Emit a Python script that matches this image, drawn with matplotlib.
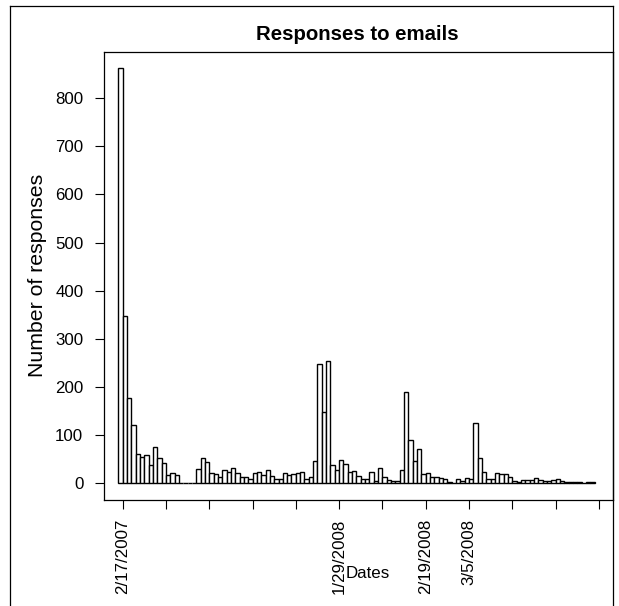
import matplotlib
matplotlib.use('Agg')
import matplotlib.pyplot as plt
from matplotlib.lines import Line2D
import numpy as np

plt.rcParams['font.family'] = ['Liberation Sans', 'DejaVu Sans']

# daily response counts
counts = [862, 347, 177, 121, 60, 55, 59, 39, 75, 53,
          43, 17, 22, 18, 0, 0, 0, 0, 30, 53,
          44, 21, 19, 14, 27, 23, 32, 21, 14, 14,
          9, 21, 23, 17, 27, 16, 9, 9, 21, 17,
          19, 21, 23, 9, 13, 46, 248, 148, 253, 37,
          27, 48, 40, 23, 25, 16, 9, 9, 23, 5,
          32, 14, 7, 5, 5, 28, 189, 90, 46, 71,
          19, 21, 14, 14, 11, 9, 3, 0, 9, 5,
          12, 9, 126, 53, 23, 9, 9, 21, 19, 19,
          14, 5, 2, 7, 7, 7, 12, 7, 5, 4,
          7, 9, 5, 3, 2, 2, 2, 0, 2, 2]

# axis ticks every 10 days, only some labelled
tick_pos = [1, 11, 21, 31, 41, 51, 61, 71, 81, 91, 101, 111]
tick_labels = ['2/17/2007', '', '', '', '', '1/29/2008', '',
               '2/19/2008', '3/5/2008', '', '', '']
y_ticks = [0, 100, 200, 300, 400, 500, 600, 700, 800]

W, H = 619, 606
fig = plt.figure(figsize=(W / 100, H / 100), dpi=100)

# plot box in pixels: left 104, right 613, top 52, bottom 500
ax = fig.add_axes([104.3 / W, 1 - 500 / H, (612.7 - 104.3) / W, (500 - 52) / H])

x = np.arange(len(counts))
ax.bar(x, counts, width=1, align='edge', color='white',
       edgecolor='black', linewidth=1.0)

ax.set_xlim(-3.23, 114.18)
ax.set_ylim(-34.7, 895.6)

ax.set_xticks(tick_pos)
ax.set_xticklabels(tick_labels, rotation=90)
ax.set_yticks(y_ticks)
ax.set_yticklabels([str(v) for v in y_ticks])

ax.tick_params(axis='both', direction='out', length=6.5, width=0.8,
               labelsize=12.2, colors='black')
ax.tick_params(axis='x', pad=7.2)
ax.tick_params(axis='y', pad=8.6)
for s in ax.spines.values():
    s.set_linewidth(0.9)
    s.set_color('black')

fig.text(357 / W, 1 - 39.5 / H, 'Responses to emails', ha='center',
         va='baseline', fontsize=14.7, fontweight='bold')
fig.text(38 / W, 1 - 275 / H, 'Number of responses', ha='center',
         va='center', rotation=90, fontsize=15.3)
fig.text(367.5 / W, 1 - 578 / H, 'Dates', ha='center', va='baseline',
         fontsize=12.2)

# outer frame of the original device
fx0, fx1, fy0 = 10 / W, 612.7 / W, 1 - 6 / H
fig.add_artist(Line2D([fx0, fx0], [0, fy0], color='black', lw=0.9,
                      transform=fig.transFigure))
fig.add_artist(Line2D([fx0, fx1], [fy0, fy0], color='black', lw=0.9,
                      transform=fig.transFigure))
fig.add_artist(Line2D([fx1, fx1], [0, fy0], color='black', lw=0.9,
                      transform=fig.transFigure))

fig.savefig('out.png', dpi=100)
